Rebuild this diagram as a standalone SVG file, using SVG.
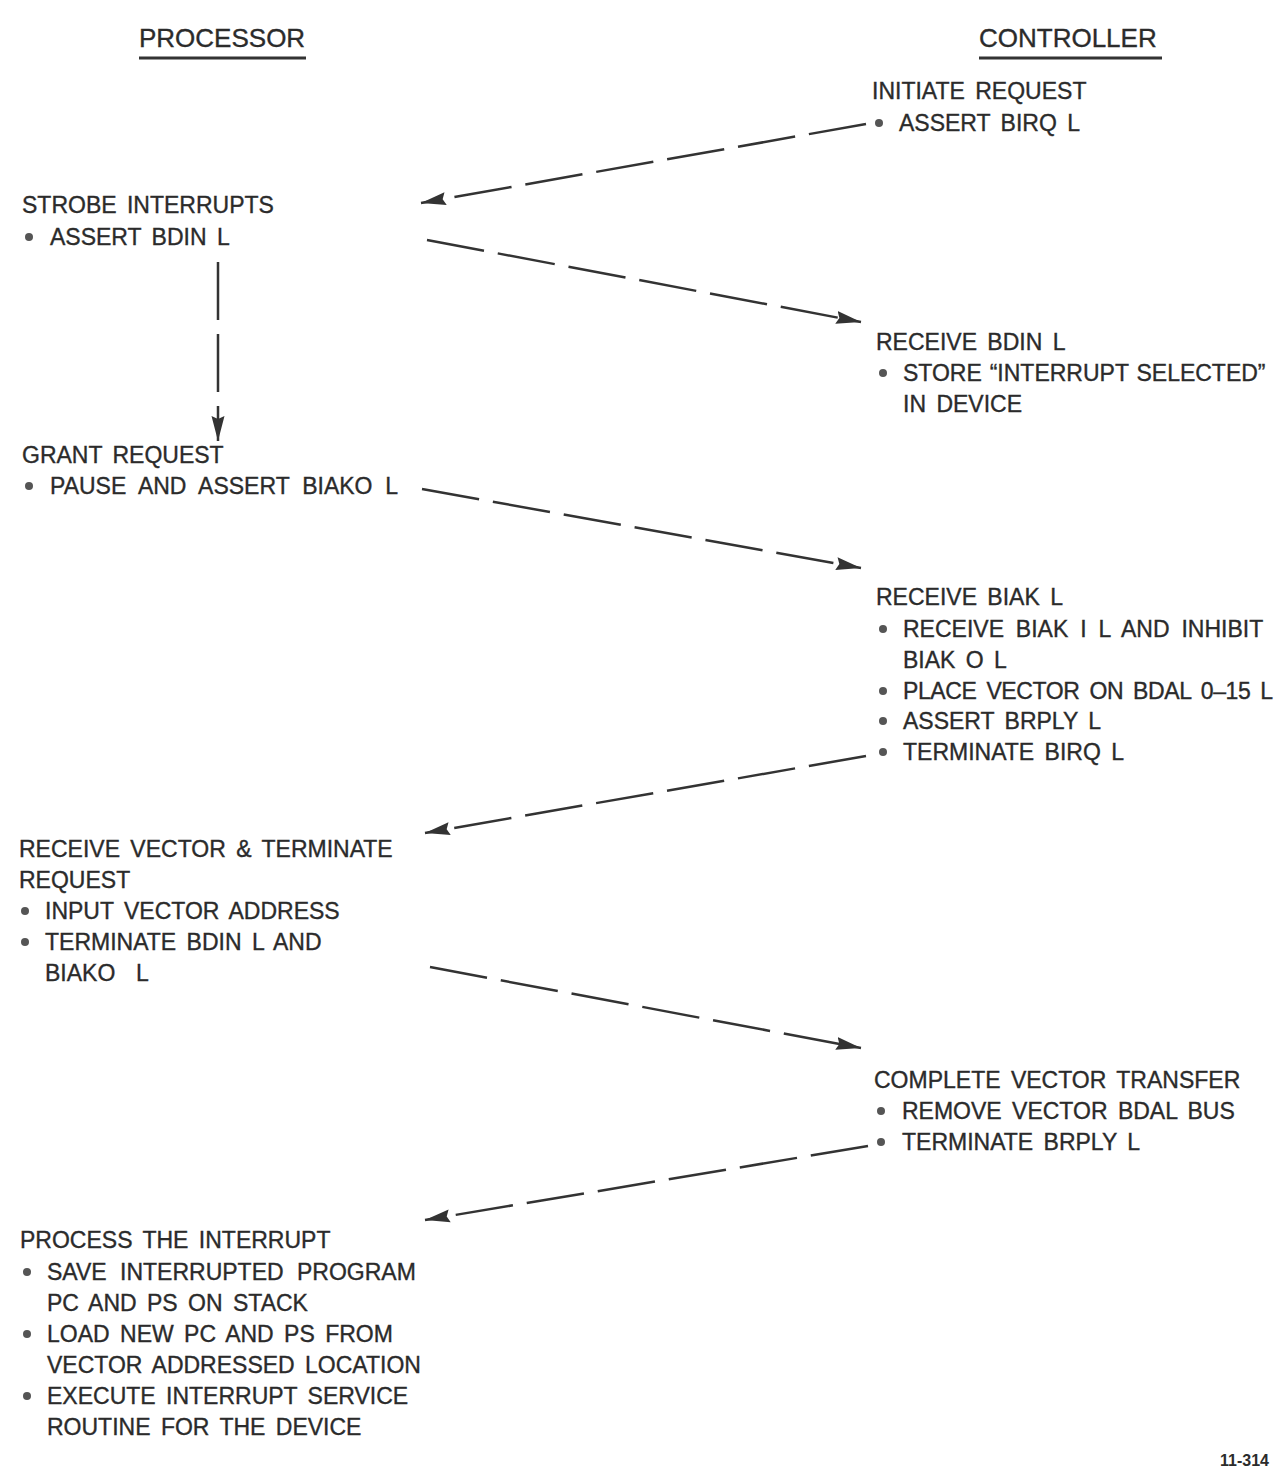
<svg xmlns="http://www.w3.org/2000/svg" width="1275" height="1479" viewBox="0 0 1275 1479">
<style>
  text { font-family: "Liberation Sans", Arial, Helvetica, sans-serif; fill: #2b2b2b; stroke: #2b2b2b; stroke-width: 0.35; }
  .t { font-size: 23px; white-space: pre; word-spacing: 4px; }
  .title { font-size: 26px; }
  .ul { stroke: #333; stroke-width: 3; }
  .bul { fill: #555; }
  .conn { stroke: #333; stroke-width: 2.5; fill: none; stroke-dasharray: 58 14; marker-end: url(#arr); }
  .fig { font-size: 16px; font-weight: bold; stroke-width: 0; }
</style>
<defs>
  <marker id="arr" markerUnits="userSpaceOnUse" markerWidth="26" markerHeight="14" refX="25" refY="7" orient="auto">
    <path d="M0,0.5 L25,7 L0,13.5 L3,7 z" fill="#333"/>
  </marker>
</defs>
<rect width="1275" height="1479" fill="#ffffff"/>

<g id="hdr-processor">
  <text class="title" x="139" y="47">PROCESSOR</text>
  <line class="ul" x1="139" y1="58" x2="306" y2="58"/>
</g>
<g id="hdr-controller">
  <text class="title" x="979" y="47">CONTROLLER</text>
  <line class="ul" x1="979" y1="58" x2="1162" y2="58"/>
</g>

<g id="initiate-request">
  <text class="t" x="872" y="99">INITIATE REQUEST</text>
  <circle class="bul" cx="879" cy="123" r="4"/>
  <text class="t" x="899" y="131">ASSERT BIRQ L</text>
</g>

<g id="strobe-interrupts">
  <text class="t" x="22" y="213">STROBE INTERRUPTS</text>
  <circle class="bul" cx="29" cy="237" r="4"/>
  <text class="t" x="50" y="245">ASSERT BDIN L</text>
</g>

<g id="receive-bdin">
  <text class="t" x="876" y="350">RECEIVE BDIN L</text>
  <circle class="bul" cx="883" cy="373" r="4"/>
  <text class="t" x="903" y="381" style="word-spacing:1.5px">STORE “INTERRUPT SELECTED”</text>
  <text class="t" x="903" y="412">IN DEVICE</text>
</g>

<g id="grant-request">
  <text class="t" x="22" y="463">GRANT REQUEST</text>
  <circle class="bul" cx="29" cy="486" r="4"/>
  <text class="t" x="50" y="494" style="word-spacing:6.5px">PAUSE AND ASSERT BIAKO L</text>
</g>

<g id="receive-biak">
  <text class="t" x="876" y="605">RECEIVE BIAK L</text>
  <circle class="bul" cx="883" cy="629" r="4"/>
  <text class="t" x="903" y="637" style="word-spacing:5.5px">RECEIVE BIAK I L AND INHIBIT</text>
  <text class="t" x="903" y="668">BIAK O L</text>
  <circle class="bul" cx="883" cy="691" r="4"/>
  <text class="t" x="903" y="699" style="letter-spacing:-0.4px">PLACE VECTOR ON BDAL 0–15 L</text>
  <circle class="bul" cx="883" cy="721" r="4"/>
  <text class="t" x="903" y="729">ASSERT BRPLY L</text>
  <circle class="bul" cx="883" cy="752" r="4"/>
  <text class="t" x="903" y="760">TERMINATE BIRQ L</text>
</g>

<g id="receive-vector">
  <text class="t" x="19" y="857">RECEIVE VECTOR &amp; TERMINATE</text>
  <text class="t" x="19" y="888">REQUEST</text>
  <circle class="bul" cx="25" cy="911" r="4"/>
  <text class="t" x="45" y="919">INPUT VECTOR ADDRESS</text>
  <circle class="bul" cx="25" cy="942" r="4"/>
  <text class="t" x="45" y="950">TERMINATE BDIN L AND</text>
  <text class="t" x="45" y="981">BIAKO  L</text>
</g>

<g id="complete-vector">
  <text class="t" x="874" y="1088">COMPLETE VECTOR TRANSFER</text>
  <circle class="bul" cx="881" cy="1111" r="4"/>
  <text class="t" x="902" y="1119">REMOVE VECTOR BDAL BUS</text>
  <circle class="bul" cx="881" cy="1142" r="4"/>
  <text class="t" x="902" y="1150">TERMINATE BRPLY L</text>
</g>

<g id="process-interrupt">
  <text class="t" x="20" y="1248">PROCESS THE INTERRUPT</text>
  <circle class="bul" cx="27" cy="1272" r="4"/>
  <text class="t" x="47" y="1280" style="word-spacing:7px">SAVE INTERRUPTED PROGRAM</text>
  <text class="t" x="47" y="1311">PC AND PS ON STACK</text>
  <circle class="bul" cx="27" cy="1334" r="4"/>
  <text class="t" x="47" y="1342">LOAD NEW PC AND PS FROM</text>
  <text class="t" x="47" y="1373">VECTOR ADDRESSED LOCATION</text>
  <circle class="bul" cx="27" cy="1396" r="4"/>
  <text class="t" x="47" y="1404">EXECUTE INTERRUPT SERVICE</text>
  <text class="t" x="47" y="1435">ROUTINE FOR THE DEVICE</text>
</g>

<g id="figure-number">
  <text class="fig" x="1220" y="1466">11-314</text>
</g>

<g id="connectors">
  <line class="conn" x1="866" y1="124" x2="421" y2="203"/>
  <line class="conn" x1="427" y1="240" x2="861" y2="322"/>
  <line class="conn" x1="218" y1="262" x2="218" y2="441"/>
  <line class="conn" x1="422" y1="489" x2="861" y2="568"/>
  <line class="conn" x1="866" y1="756" x2="425" y2="833"/>
  <line class="conn" x1="430" y1="967" x2="861" y2="1048"/>
  <line class="conn" x1="868" y1="1146" x2="425" y2="1220"/>
</g>
</svg>
